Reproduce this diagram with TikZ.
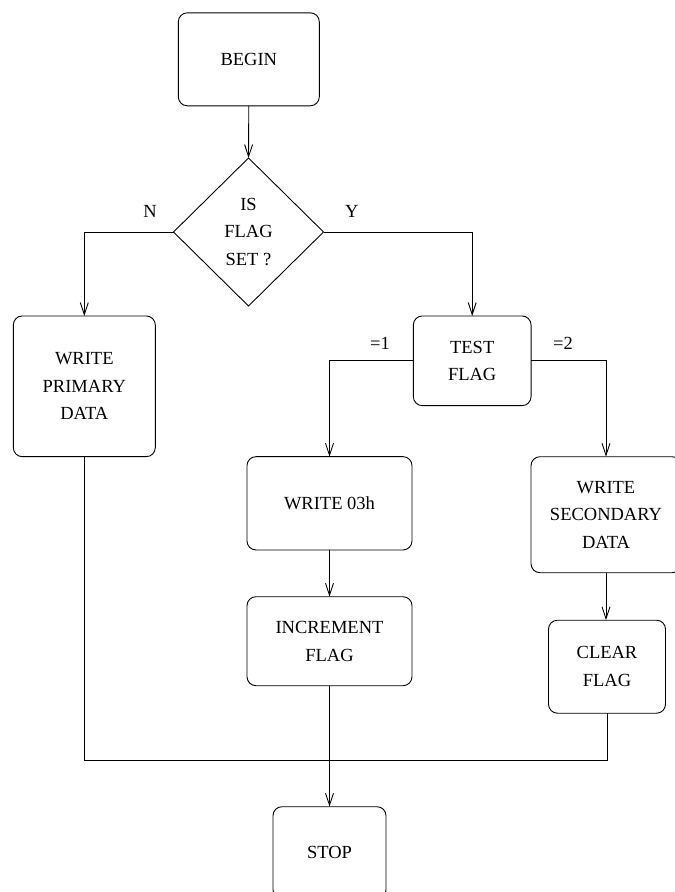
\documentclass[tikz,border=0pt]{standalone}
\usepackage{fontspec}
\setmainfont{Liberation Serif}
\usetikzlibrary{shapes.geometric,arrows.meta}

\tikzset{
  every node/.style={font=\fontsize{18.5}{27.6}\selectfont, outer sep=0pt, inner sep=0pt},
  procbox/.style={draw, rounded corners=9pt, align=center, line width=0.9pt},
  decision/.style={draw, diamond, align=center, line width=0.9pt},
  flow/.style={line width=0.9pt, -{Straight Barb[length=12pt,width=8pt,line width=0.9pt]}},
  plain/.style={line width=0.9pt},
}

\begin{document}
\begin{tikzpicture}[x=1pt, y=-1pt]
\useasboundingbox (0,0) rectangle (675,892);
\fill[white] (0,0) rectangle (675,892);
\clip (0,0) rectangle (675,892);

% process boxes and the decision
\node[procbox, minimum width=141pt, minimum height=93pt] (begin) at (248.8,59.3) {BEGIN};
\node[decision, minimum width=150pt, minimum height=148pt] (dec) at (248.5,232) {IS\\FLAG\\SET ?};
\node[procbox, minimum width=142pt, minimum height=140.7pt] (prim) at (84.3,386.3) {WRITE\\PRIMARY\\DATA};
\node[procbox, minimum width=117.7pt, minimum height=89.7pt] (test) at (472.2,360.8) {TEST\\FLAG};
\node[procbox, minimum width=165pt, minimum height=93.3pt] (w03) at (329.5,503.3) {WRITE 03h};
\node[procbox, minimum width=165pt, minimum height=89pt] (inc) at (329.5,641.2) {INCREMENT\\FLAG};
\node[procbox, minimum width=150pt, minimum height=116pt] (sec) at (606,514.7) {WRITE\\SECONDARY\\DATA};
\node[procbox, minimum width=117pt, minimum height=93pt] (clear) at (607,666.7) {CLEAR\\FLAG};
\node[procbox, minimum width=113pt, minimum height=92pt] (stop) at (329.5,852.7) {STOP};

% branch labels
\node (lN) at (150,211.7) {N};
\node (lY) at (351.7,211.7) {Y};
\node (l1) at (380,343) {=1};
\node (l2) at (563,343) {=2};

\coordinate (join) at (329.5,760);

% connectors
\draw[flow] (begin.south) -- (dec.north);
\draw[flow] (dec.west) -| (prim.north);
\draw[flow] (dec.east) -| (test.north);
\draw[flow] (test.west) -| (w03.north);
\draw[flow] (test.east) -| (sec.north);
\draw[flow] (w03.south) -- (inc.north);
\draw[flow] (sec.south) -- (sec.south |- clear.north);
\draw[flow] (inc.south) -- (stop.north);
\draw[plain] (prim.south) |- (join) -| (clear.south);
\end{tikzpicture}
\end{document}
